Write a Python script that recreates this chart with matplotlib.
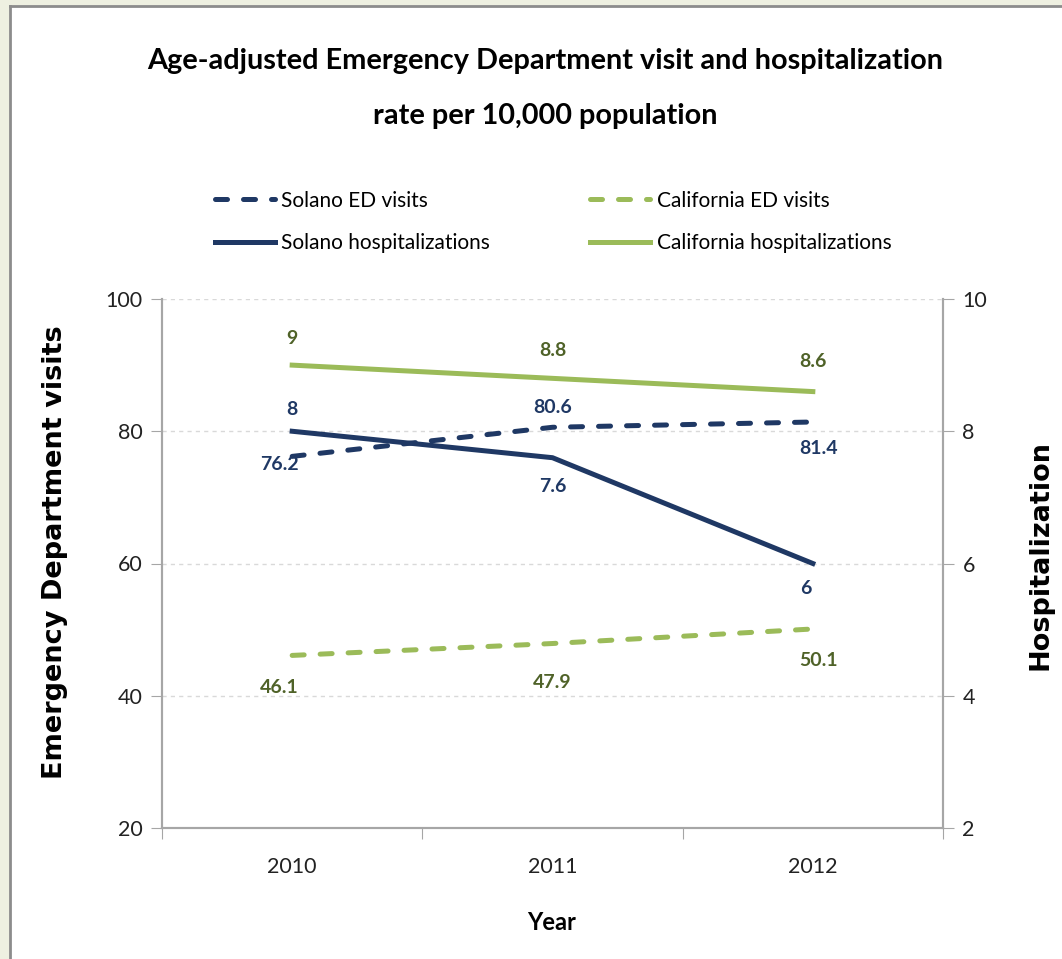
import matplotlib.pyplot as plt
from matplotlib.patches import Rectangle
from matplotlib.lines import Line2D

plt.rcParams['font.family'] = ['Lato', 'DejaVu Sans']

# data
years = ['2010', '2011', '2012']
solano_ed = [76.2, 80.6, 81.4]
california_ed = [46.1, 47.9, 50.1]
solano_hosp = [8, 7.6, 6]
california_hosp = [9, 8.8, 8.6]

navy = '#1f3864'
green = '#9bbb59'
navy_txt = '#1f3864'
green_txt = '#4f6228'
grey = '#a6a6a6'

fig = plt.figure(figsize=(10.62, 9.59), dpi=100)
fig.patch.set_facecolor('#eef0e1')
# white panel with grey border (top and left)
fig.patches.append(Rectangle((10 / 1062, 0), 1.1, 1 - 7 / 959, transform=fig.transFigure,
                             facecolor='white', edgecolor='none', zorder=-10))
fig.lines.append(Line2D([10 / 1062, 10 / 1062], [0, 1 - 6 / 959], transform=fig.transFigure,
                        color='#8c8c8c', lw=2, zorder=-9))
fig.lines.append(Line2D([10 / 1062, 1], [1 - 6 / 959, 1 - 6 / 959], transform=fig.transFigure,
                        color='#8c8c8c', lw=2, zorder=-9))

ax = fig.add_axes([162 / 1062, 1 - 828 / 959, 781 / 1062, 529 / 959])
ax.set_facecolor('none')
ax2 = ax.twinx()

x = range(len(years))
l1, = ax.plot(x, solano_ed, color=navy, lw=3.6, ls=(0, (2.4, 3.2)), dash_capstyle='round',
              label='Solano ED visits', zorder=3)
l3, = ax.plot(x, california_ed, color=green, lw=3.6, ls=(0, (2.4, 3.2)), dash_capstyle='round',
              label='California ED visits', zorder=3)
l2, = ax2.plot(x, solano_hosp, color=navy, lw=3.6, label='Solano hospitalizations', zorder=3)
l4, = ax2.plot(x, california_hosp, color=green, lw=3.6, label='California hospitalizations', zorder=3)

ax.set_ylim(20, 100)
ax2.set_ylim(2, 10)
ax.set_xlim(-0.5, 2.5)
ax.set_yticks([20, 40, 60, 80, 100])
ax2.set_yticks([2, 4, 6, 8, 10])
ax.yaxis.grid(True, ls=(0, (3, 3)), color='#d9d9d9', lw=1)
ax.set_axisbelow(True)

# x axis: ticks at category boundaries, labels in centre
ax.set_xticks([-0.5, 0.5, 1.5, 2.5])
ax.set_xticklabels([])
ax.set_xticks(list(x), minor=True)
ax.set_xticklabels(years, minor=True)
ax.tick_params(axis='x', which='major', length=8, color=grey, direction='out')
ax.tick_params(axis='x', which='minor', length=0, pad=21, labelsize=15.5, labelcolor='#222222')
ax.tick_params(axis='y', length=8, color=grey, labelsize=15.5, labelcolor='#222222', pad=6)
ax2.tick_params(axis='y', length=8, color=grey, labelsize=15.5, labelcolor='#222222', pad=6)

for a in (ax, ax2):
    a.spines['top'].set_visible(False)
    for s in ('left', 'right', 'bottom'):
        a.spines[s].set_color(grey)
        a.spines[s].set_linewidth(1.5)

# data labels
def lab(a, xi, yi, txt, dx, dy, c):
    a.annotate(txt, (xi, yi), xytext=(dx, dy), textcoords='offset points',
               ha='center', va='center', fontsize=14, fontweight='bold', color=c)

off_ch = [(0, 19), (0, 20), (0, 22)]
for i, v in enumerate(california_hosp):
    lab(ax2, i, v, '%g' % v, off_ch[i][0], off_ch[i][1], green_txt)
off_sh = [(0, 16), (0, -21), (-5, -18)]
for i, v in enumerate(solano_hosp):
    lab(ax2, i, v, '%g' % v, off_sh[i][0], off_sh[i][1], navy_txt)
off_se = [(-9, -6), (0, 14), (4, -19)]
for i, v in enumerate(solano_ed):
    lab(ax, i, v, '%g' % v, off_se[i][0], off_se[i][1], navy_txt)
off_ce = [(-9, -23), (0, -28), (4, -23)]
for i, v in enumerate(california_ed):
    lab(ax, i, v, '%g' % v, off_ce[i][0], off_ce[i][1], green_txt)

# titles and axis labels
fig.text(545 / 1062, 1 - 61 / 959, 'Age-adjusted Emergency Department visit and hospitalization',
         ha='center', va='center', fontsize=20.8, fontweight='bold')
fig.text(545 / 1062, 1 - 116 / 959, 'rate per 10,000 population',
         ha='center', va='center', fontsize=20.8, fontweight='bold')
fig.text(552 / 1062, 1 - 923 / 959, 'Year', ha='center', va='center', fontsize=17, fontweight='bold')
fig.text(55 / 1062, 1 - 552 / 959, 'Emergency Department visits', rotation=90, ha='center', va='center',
         fontsize=19.5, fontweight='bold', family='DejaVu Sans')
fig.text(1040 / 1062, 1 - 555 / 959, 'Hospitalization', rotation=90, ha='center', va='center',
         fontsize=19.5, fontweight='bold', family='DejaVu Sans')

fig.legend(handles=[l1, l2, l3, l4], ncol=2, loc='center', bbox_to_anchor=(553 / 1062, 1 - 222 / 959),
           frameon=False, fontsize=15, handlelength=2.9, handletextpad=0.3, columnspacing=4.8,
           labelspacing=1.1)

fig.savefig('out.png', dpi=100, facecolor=fig.get_facecolor())
